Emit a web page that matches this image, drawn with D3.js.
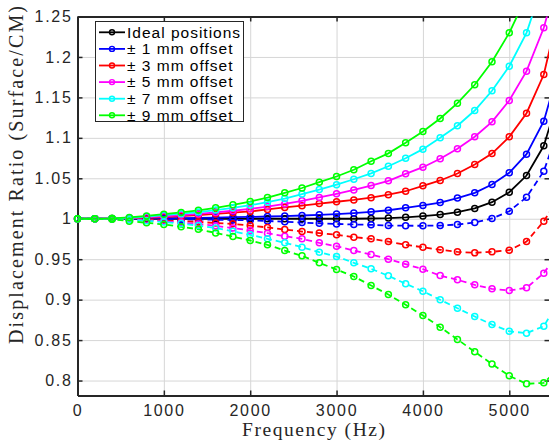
<!DOCTYPE html>
<html>
<head>
<meta charset="utf-8">
<script src="https://cdn.jsdelivr.net/npm/d3@7"></script>
<style>
  body { margin: 0; background: #fff; }
  svg { display: block; }
  .tick text { font-family: "Liberation Sans", Arial, sans-serif; font-size: 16px; fill: #262626; letter-spacing: 1.7px; }
  .grid line { stroke: #d6d6d6; stroke-width: 1; }
  .grid path { display: none; }
</style>
</head>
<body>
<div id="chart"></div>
<script>
// frequency samples (Hz)
var freq = [0,200,400,600,800,1000,1200,1400,1600,1800,2000,2200,2400,2600,2800,3000,3200,3400,3600,3800,4000,4200,4400,4600,4800,5000,5200,5400,5600];

var ideal  = [1,1,1,1,1,1,1,1,1,1,1,1,1,1,1,1,1,1.0003,1.0008,1.0018,1.0033,1.0052,1.0081,1.0128,1.0205,1.0328,1.0534,1.0902,1.16];

var plus1  = [1,1,1.0001,1.0002,1.0004,1.0006,1.0008,1.001,1.0014,1.0019,1.0023,1.0028,1.0033,1.004,1.0048,1.0058,1.007,1.0086,1.0105,1.0135,1.0164,1.02,1.0256,1.032,1.0423,1.0568,1.0798,1.1206,1.195];
var minus1 = [1,1,0.9999,0.9998,0.9996,0.9994,0.9992,0.999,0.9988,0.9985,0.998,0.9972,0.9963,0.9953,0.9943,0.9935,0.9929,0.9925,0.9916,0.9914,0.9913,0.9916,0.9929,0.9953,1.0003,1.0093,1.0266,1.0588,1.12];

var plus3  = [1,1,1.0002,1.0006,1.0012,1.002,1.0032,1.0045,1.006,1.0075,1.009,1.0115,1.014,1.0162,1.0187,1.021,1.0232,1.026,1.0298,1.034,1.0407,1.0473,1.0559,1.067,1.0806,1.1013,1.1305,1.1783,1.27];
var minus3 = [1,1,0.9998,0.9994,0.9988,0.998,0.997,0.996,0.9948,0.9937,0.9916,0.9892,0.9867,0.9842,0.9823,0.9801,0.9772,0.9752,0.9718,0.9678,0.9648,0.9616,0.9591,0.9579,0.9591,0.9611,0.9718,0.9969,1.03];

var plus5  = [1,1,1.0002,1.0008,1.0019,1.0031,1.0045,1.006,1.0078,1.0099,1.0122,1.015,1.0183,1.0222,1.0264,1.0308,1.0356,1.041,1.0469,1.0555,1.0637,1.0741,1.0864,1.1013,1.1198,1.1462,1.1824,1.236,1.314];
var minus5 = [1,1,0.9998,0.999,0.998,0.9968,0.9953,0.9935,0.9912,0.9885,0.9855,0.9821,0.9784,0.9752,0.9702,0.966,0.9607,0.9558,0.95,0.9438,0.9376,0.9298,0.9245,0.9183,0.9134,0.9113,0.9146,0.9327,0.963];

var plus7  = [1,1,1.0003,1.0012,1.0027,1.0044,1.0062,1.0083,1.0107,1.0135,1.0167,1.0205,1.025,1.0305,1.0361,1.0421,1.0488,1.056,1.0649,1.0748,1.086,1.1,1.1149,1.1338,1.1582,1.1886,1.2298,1.294,1.38];
var minus7 = [1,1,0.9997,0.9988,0.9975,0.996,0.994,0.9915,0.9885,0.9845,0.9801,0.9752,0.9702,0.9648,0.9586,0.9533,0.9455,0.9381,0.9295,0.9196,0.9104,0.8998,0.8894,0.8791,0.8692,0.8609,0.8585,0.8671,0.903];

var plus9  = [1,1,1.0005,1.0016,1.0035,1.0057,1.0078,1.0104,1.0135,1.0172,1.0213,1.0262,1.032,1.038,1.0452,1.0522,1.0606,1.0711,1.0808,1.0939,1.1078,1.1239,1.1428,1.1656,1.194,1.2298,1.275,1.34,1.42];
var minus9 = [1,1,0.9995,0.997,0.995,0.993,0.99,0.987,0.9825,0.978,0.9731,0.9678,0.9607,0.9542,0.9455,0.9372,0.9286,0.9174,0.9063,0.8936,0.8804,0.866,0.8508,0.8356,0.8203,0.8058,0.7959,0.7972,0.817];

var legendNames = ["Ideal positions","\u00b1 1 mm offset","\u00b1 3 mm offset","\u00b1 5 mm offset","\u00b1 7 mm offset","\u00b1 9 mm offset"];
var colors = ["#000000","#0000ff","#ff0000","#ff00ff","#00ffff","#00ff00"];

var xTicks = [0,1000,2000,3000,4000,5000];
var yTicks = [0.8,0.85,0.9,0.95,1,1.05,1.1,1.15,1.2,1.25];

// plotting order: ideal first, green last
var series = [
  {v: ideal,  c: 0, dash: false},
  {v: plus1,  c: 1, dash: false}, {v: minus1, c: 1, dash: true},
  {v: plus3,  c: 2, dash: false}, {v: minus3, c: 2, dash: true},
  {v: plus5,  c: 3, dash: false}, {v: minus5, c: 3, dash: true},
  {v: plus7,  c: 4, dash: false}, {v: minus7, c: 4, dash: true},
  {v: plus9,  c: 5, dash: false}, {v: minus9, c: 5, dash: true}
];

var W = 549, H = 447;
var pL = 77.5, pR = 549.5, pT = 16.5, pB = 395.5;

var svg = d3.select("#chart").append("svg")
    .attr("width", W)
    .attr("height", H);

var x = d3.scaleLinear().domain([0, 5466]).range([pL, pR]);
var y = d3.scaleLinear().domain([0.7815, 1.25]).range([pB, pT]);

var defs = svg.append("defs");
defs.append("clipPath").attr("id", "clip")
  .append("rect").attr("x", pL).attr("y", pT).attr("width", pR - pL).attr("height", pB - pT);
defs.append("clipPath").attr("id", "clipm")
  .append("rect").attr("x", pL - 4).attr("y", pT).attr("width", pR - pL + 4).attr("height", pB - pT + 4);

// grid
svg.append("g").attr("class", "grid")
  .attr("transform", "translate(0," + pB + ")")
  .call(d3.axisBottom(x).tickValues(xTicks).tickSize(-(pB - pT)).tickFormat(""));
svg.append("g").attr("class", "grid")
  .attr("transform", "translate(" + pL + ",0)")
  .call(d3.axisLeft(y).tickValues(yTicks).tickSize(-(pR - pL)).tickFormat(""));

// axes box with inward ticks
var axisColor = "#262626";
var xb = svg.append("g").attr("transform", "translate(0," + pB + ")")
  .call(d3.axisBottom(x).tickValues(xTicks).tickSizeInner(-5).tickSizeOuter(0).tickFormat(d3.format("d")));
var xt = svg.append("g").attr("transform", "translate(0," + pT + ")")
  .call(d3.axisTop(x).tickValues(xTicks).tickSizeInner(-5).tickSizeOuter(0).tickFormat(""));
var yl = svg.append("g").attr("transform", "translate(" + pL + ",0)")
  .call(d3.axisLeft(y).tickValues(yTicks).tickSizeInner(-5).tickSizeOuter(0).tickFormat(function(d){ return String(+d.toFixed(2)); }));
var yr = svg.append("g").attr("transform", "translate(" + pR + ",0)")
  .call(d3.axisRight(y).tickValues(yTicks).tickSizeInner(-5).tickSizeOuter(0).tickFormat(""));

[xb, xt, yl, yr].forEach(function(g){
  g.select(".domain").attr("stroke", axisColor).attr("stroke-width", 2);
  g.selectAll(".tick line").attr("stroke", axisColor).attr("stroke-width", 1.5);
});
xb.selectAll(".tick text").attr("dy", "0.71em").attr("y", 9.5);
yl.selectAll(".tick text").attr("x", -5);

// data
var line = d3.line()
  .x(function(d, i){ return x(freq[i]); })
  .y(function(d){ return y(d); });

var lines = svg.append("g").attr("clip-path", "url(#clip)");
var marks = svg.append("g").attr("clip-path", "url(#clipm)");

series.forEach(function(s){
  lines.append("path")
    .datum(s.v)
    .attr("d", line)
    .attr("fill", "none")
    .attr("stroke", colors[s.c])
    .attr("stroke-width", 1.8)
    .attr("stroke-dasharray", s.dash ? "6,4" : null);
  marks.selectAll(null)
    .data(s.v)
    .enter().append("circle")
    .attr("cx", function(d, i){ return x(freq[i]); })
    .attr("cy", function(d){ return y(d); })
    .attr("r", 3)
    .attr("fill", "none")
    .attr("stroke", colors[s.c])
    .attr("stroke-width", 1.5);
});

// legend
var lg = svg.append("g");
lg.append("rect")
  .attr("x", 95.5).attr("y", 21.5).attr("width", 148).attr("height", 100)
  .attr("fill", "#fff").attr("stroke", axisColor).attr("stroke-width", 1);

legendNames.forEach(function(name, i){
  var ly = 32.3 + i * 16.6;
  lg.append("line")
    .attr("x1", 99).attr("x2", 125).attr("y1", ly).attr("y2", ly)
    .attr("stroke", colors[i]).attr("stroke-width", 1.8);
  lg.append("circle")
    .attr("cx", 112).attr("cy", ly).attr("r", 2.5)
    .attr("fill", "none").attr("stroke", colors[i]).attr("stroke-width", 1.4);
  lg.append("text")
    .attr("x", 127).attr("y", ly + 5.3)
    .style("font-family", "Liberation Sans, Arial, sans-serif")
    .style("font-size", "15.5px")
    .style("letter-spacing", "1px")
    .attr("fill", "#000")
    .text(name);
});

// axis labels
svg.append("text")
  .attr("x", (pL + pR) / 2).attr("y", 436)
  .attr("text-anchor", "middle")
  .attr("textLength", 143).attr("lengthAdjust", "spacing")
  .style("font-family", "Liberation Serif, Times New Roman, serif")
  .style("font-size", "19.5px")
  .attr("fill", axisColor)
  .text("Frequency (Hz)");

svg.append("text")
  .attr("transform", "translate(23,175) rotate(-90)")
  .attr("text-anchor", "middle")
  .attr("textLength", 338).attr("lengthAdjust", "spacing")
  .style("font-family", "Liberation Serif, Times New Roman, serif")
  .style("font-size", "20px")
  .attr("fill", axisColor)
  .text("Displacement Ratio (Surface/CM)");
</script>
</body>
</html>
